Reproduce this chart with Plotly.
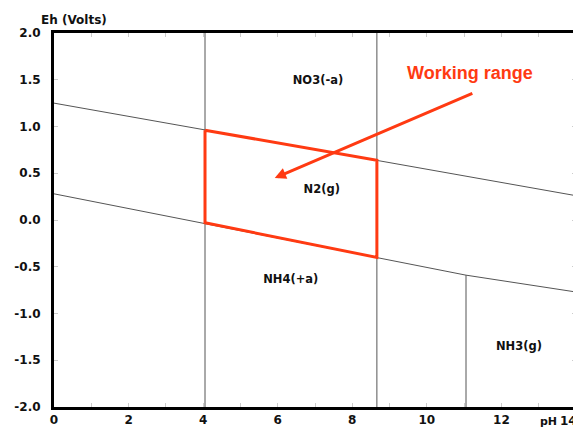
import plotly.graph_objects as go

# Boundary lines (pH, Eh)
upper_ph = [0, 14]
upper_eh = [1.25, 0.26]
lower_ph = [0, 11.05, 14]
lower_eh = [0.28, -0.59, -0.77]
vert1_ph = [4.05, 4.05]
vert1_eh = [2.0, -2.0]
vert2_ph = [8.66, 8.66]
vert2_eh = [2.0, -2.0]
vert3_ph = [11.05, 11.05]
vert3_eh = [-0.59, -2.0]

# Working range box
box_ph = [4.05, 8.66, 8.66, 4.05, 4.05]
box_eh = [0.96, 0.64, -0.40, -0.03, 0.96]

# Species labels
species = ["NO3(-a)", "N2(g)", "NH4(+a)", "NH3(g)"]
species_ph = [7.08, 7.18, 6.35, 12.47]
species_eh = [1.49, 0.32, -0.64, -1.36]

x_tickvals = list(range(0, 15))
x_ticktext = [str(v) if (v % 2 == 0 and v < 14) else "" for v in x_tickvals]
x_last_tick = 14
y_tickvals = [-2.0, -1.5, -1.0, -0.5, 0.0, 0.5, 1.0, 1.5, 2.0]
y_ticktext = ["-2.0", "-1.5", "-1.0", "-0.5", "0.0", "0.5", "1.0", "1.5", "2.0"]

RED = "#ff3a12"
GREY = "#555555"
FONT = "DejaVu Sans"

fig = go.Figure()
for xs, ys in [(upper_ph, upper_eh), (lower_ph, lower_eh), (vert1_ph, vert1_eh),
               (vert2_ph, vert2_eh), (vert3_ph, vert3_eh)]:
    fig.add_trace(go.Scatter(x=xs, y=ys, mode="lines",
                             line=dict(color=GREY, width=1), hoverinfo="skip"))

fig.add_trace(go.Scatter(x=box_ph, y=box_eh, mode="lines",
                         line=dict(color=RED, width=3), hoverinfo="skip"))

fig.add_trace(go.Scatter(x=species_ph, y=species_eh, mode="text", text=species,
                         textfont=dict(family=FONT, size=11.5, color="#111111", weight="bold"),
                         hoverinfo="skip"))

fig.add_annotation(x=5.92, y=0.45, ax=11.26, ay=1.36, xref="x", yref="y",
                   axref="x", ayref="y", showarrow=True, arrowhead=2,
                   arrowsize=0.75, arrowwidth=3, arrowcolor=RED, text="")
fig.add_annotation(x=11.15, y=1.57, xref="x", yref="y", showarrow=False,
                   text="<b>Working range</b>",
                   font=dict(family="Liberation Sans", size=18, color=RED))
fig.add_annotation(x=0, y=1.0, xref="paper", yref="paper", xanchor="left",
                   yanchor="bottom", xshift=-15, yshift=4, showarrow=False,
                   text="<b>Eh (Volts)</b>", font=dict(family=FONT, size=12, color="#111"))
fig.add_annotation(x=13.25, y=0, xref="x", yref="paper", yanchor="top", yshift=-6,
                   showarrow=False, text="<b>pH</b>",
                   font=dict(family=FONT, size=11, color="#111"))
fig.add_annotation(x=x_last_tick, y=0, xref="x", yref="paper", xanchor="right",
                   yanchor="top", xshift=3, yshift=-5, showarrow=False,
                   text="<b>%d</b>" % x_last_tick,
                   font=dict(family=FONT, size=12, color="#111"))

# page body has an 8px margin; size the figure so the plot frame lands where the reference has it
fig.update_layout(
    width=573, height=423,
    margin=dict(l=46, r=5, t=25, b=24, autoexpand=False),
    plot_bgcolor="white", paper_bgcolor="white",
    showlegend=False,
    font=dict(family=FONT, size=12, color="#111"),
)
fig.update_xaxes(range=[0, 14], tickvals=x_tickvals, ticktext=x_ticktext,
                 ticks="inside", ticklen=4, tickcolor="#cccccc",
                 showline=True, linewidth=3, linecolor="black", mirror="ticks",
                 showgrid=False, zeroline=False, automargin=False,
                 ticklabeloverflow="allow",
                 tickfont=dict(family=FONT, size=12, color="#111", weight="bold"))
fig.update_yaxes(range=[-2, 2], tickvals=y_tickvals, ticktext=y_ticktext,
                 ticks="inside", ticklen=4, tickcolor="#cccccc",
                 showline=True, linewidth=3, linecolor="black", mirror="ticks",
                 showgrid=False, zeroline=False, automargin=False, ticklabelstandoff=8,
                 ticklabeloverflow="allow",
                 tickfont=dict(family=FONT, size=12, color="#111", weight="bold"))

fig.write_html("out.html")
